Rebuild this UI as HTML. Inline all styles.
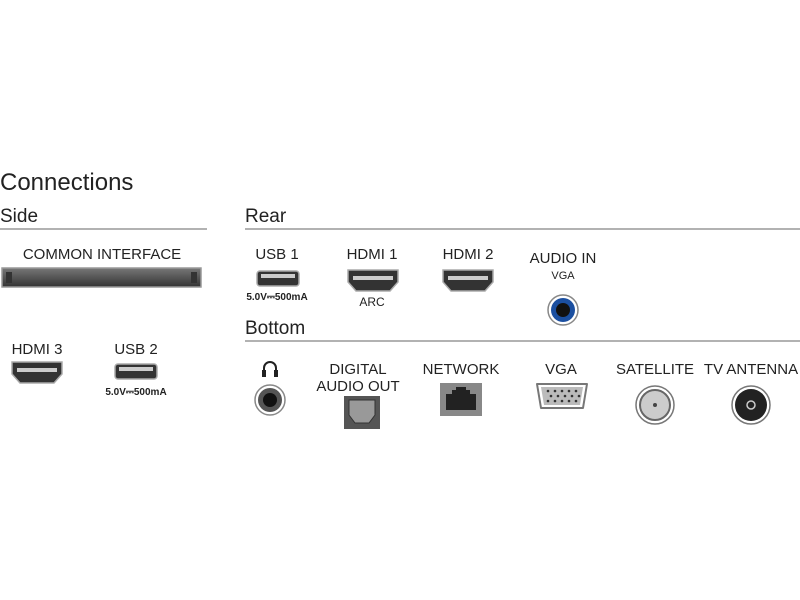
<!DOCTYPE html>
<html><head><meta charset="utf-8"><style>
html,body{margin:0;padding:0;background:#fff;}
svg{display:block;font-family:"Liberation Sans",sans-serif;}
</style></head><body>
<svg width="800" height="600" viewBox="0 0 800 600">
<defs>
<linearGradient id="g1" x1="0" y1="0" x2="0" y2="1"><stop offset="0" stop-color="#777"/><stop offset="1" stop-color="#333"/></linearGradient>
<g id="hdmi"><path d="M0,0 h50 v12 l-8,9 h-34 l-8,-9z" fill="#333" stroke="#aaa" stroke-width="1.5"/><rect x="5" y="6" width="40" height="4" fill="#ccc"/></g>
<g id="usb"><rect x="0" y="0" width="42" height="15" rx="3" fill="#333" stroke="#aaa" stroke-width="1.5"/><rect x="4" y="3" width="34" height="4" fill="#ccc"/></g>
<g id="jack"><circle r="15" fill="#fff" stroke="#888" stroke-width="1.5"/><circle r="12" fill="#555"/><circle r="7" fill="#111"/></g>
</defs>
<g fill="#222">
<text x="0" y="190" font-size="24" font-weight="300">Connections</text>
<text x="0" y="222" font-size="19">Side</text>
<text x="245" y="222" font-size="19">Rear</text>
<text x="245" y="334" font-size="19">Bottom</text>
</g>
<line x1="0" y1="229" x2="207" y2="229" stroke="#666" stroke-width="1"/>
<line x1="245" y1="229" x2="800" y2="229" stroke="#666" stroke-width="1"/>
<line x1="245" y1="341" x2="800" y2="341" stroke="#666" stroke-width="1"/>
<g fill="#222" font-size="15" text-anchor="middle">
<text x="102" y="259">COMMON INTERFACE</text>
<text x="277" y="259">USB 1</text>
<text x="372" y="259">HDMI 1</text>
<text x="372" y="306" font-size="12">ARC</text>
<text x="468" y="259">HDMI 2</text>
<text x="563" y="263">AUDIO IN</text>
<text x="563" y="279" font-size="11">VGA</text>
<text x="37" y="354">HDMI 3</text>
<text x="136" y="354">USB 2</text>
<text x="358" y="374">DIGITAL</text>
<text x="358" y="391">AUDIO OUT</text>
<text x="461" y="374">NETWORK</text>
<text x="561" y="374">VGA</text>
<text x="655" y="374">SATELLITE</text>
<text x="751" y="374">TV ANTENNA</text>
<text x="277" y="300" font-size="10" font-weight="bold">5.0V⎓500mA</text>
<text x="136" y="395" font-size="10" font-weight="bold">5.0V⎓500mA</text>
</g>
<rect x="2" y="268" width="199" height="19" fill="url(#g1)" stroke="#999" stroke-width="1.5"/>
<rect x="6" y="272" width="6" height="11" fill="#333"/><rect x="191" y="272" width="6" height="11" fill="#333"/>
<use href="#usb" x="257" y="271"/>
<use href="#usb" x="115" y="364"/>
<use href="#hdmi" x="348" y="270"/>
<use href="#hdmi" x="443" y="270"/>
<use href="#hdmi" x="12" y="362"/>
<circle cx="563" cy="310" r="15" fill="#fff" stroke="#888" stroke-width="1.5"/>
<circle cx="563" cy="310" r="12" fill="#1b4fa0"/>
<circle cx="563" cy="310" r="7" fill="#111"/>
<path d="M264,376 v-8 a6,6 0 0 1 12,0 v8" fill="none" stroke="#222" stroke-width="2"/>
<rect x="262" y="370" width="4" height="7" fill="#222"/><rect x="274" y="370" width="4" height="7" fill="#222"/>
<use href="#jack" x="270" y="400"/>
<rect x="344" y="396" width="36" height="33" fill="#555"/>
<path d="M349,400 h26 v15 l-6,8 h-14 l-6,-8z" fill="#999" stroke="#333"/>
<rect x="440" y="383" width="42" height="33" fill="#888"/>
<path d="M446,410 v-16 h6 v-4 h4 v-3 h10 v3 h4 v4 h6 v16z" fill="#222"/>
<path d="M537,384 h50 l-4,24 h-42z" fill="#fff" stroke="#777" stroke-width="2" stroke-linejoin="round"/>
<path d="M541,387 h42 l-3,18 h-36z" fill="#bbb"/>
<g fill="#333"><circle cx="548" cy="391" r="1.3"/><circle cx="555" cy="391" r="1.3"/><circle cx="562" cy="391" r="1.3"/><circle cx="569" cy="391" r="1.3"/><circle cx="576" cy="391" r="1.3"/>
<circle cx="551" cy="396" r="1.3"/><circle cx="558" cy="396" r="1.3"/><circle cx="565" cy="396" r="1.3"/><circle cx="572" cy="396" r="1.3"/><circle cx="579" cy="396" r="1.3"/>
<circle cx="548" cy="401" r="1.3"/><circle cx="555" cy="401" r="1.3"/><circle cx="562" cy="401" r="1.3"/><circle cx="569" cy="401" r="1.3"/><circle cx="576" cy="401" r="1.3"/></g>
<circle cx="655" cy="405" r="19" fill="#fff" stroke="#777" stroke-width="1.5"/>
<circle cx="655" cy="405" r="15" fill="#ccc" stroke="#666" stroke-width="2"/>
<circle cx="655" cy="405" r="2" fill="#444"/>
<circle cx="751" cy="405" r="19" fill="#fff" stroke="#777" stroke-width="1.5"/>
<circle cx="751" cy="405" r="16" fill="#222"/>
<circle cx="751" cy="405" r="4" fill="none" stroke="#ccc" stroke-width="1.5"/>
</svg>
</body></html>
